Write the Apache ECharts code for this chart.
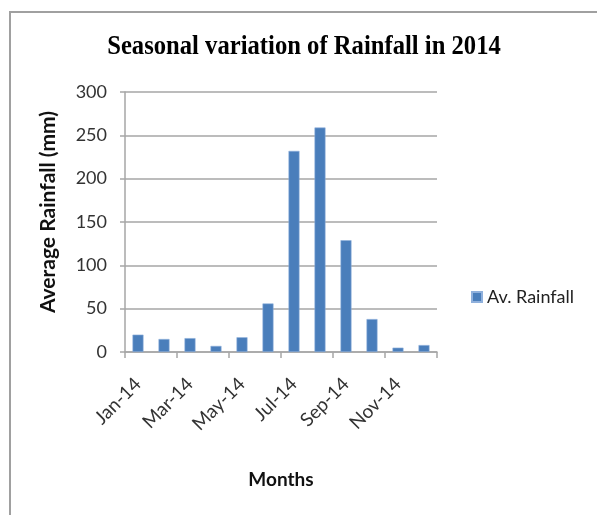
<!DOCTYPE html>
<html>
<head>
<meta charset="utf-8">
<script src="https://cdn.jsdelivr.net/npm/echarts@6/dist/echarts.min.js"></script>
<style>
  html, body { margin: 0; padding: 0; background: #ffffff; }
  #chart { width: 597px; height: 515px; }
</style>
</head>
<body>
<div id="chart"></div>
<script>
// Monthly average rainfall for 2014
const months = ['Jan-14', 'Feb-14', 'Mar-14', 'Apr-14', 'May-14', 'Jun-14',
                'Jul-14', 'Aug-14', 'Sep-14', 'Oct-14', 'Nov-14', 'Dec-14'];
const rainfall = [20, 15, 16, 7, 17, 56, 232, 259, 129, 38, 5, 8];
const seriesName = 'Av. Rainfall';
const chartTitle = 'Seasonal variation of Rainfall in 2014';
const yTicks = { min: 0, max: 300, interval: 50 };

const chart = echarts.init(document.getElementById('chart'), null, { renderer: 'canvas' });

const labelFont = 'Lato, "Open Sans", sans-serif';

chart.setOption({
  animation: false,
  backgroundColor: '#ffffff',
  legend: {
    left: 466,
    top: 283,
    orient: 'vertical',
    icon: 'rect',
    itemWidth: 10,
    itemHeight: 10,
    itemGap: 6,
    textStyle: { fontFamily: labelFont, fontSize: 18, color: '#222222' },
    data: [seriesName]
  },
  grid: { left: 125, right: 160, top: 92, bottom: 163, containLabel: false },
  xAxis: {
    type: 'category',
    data: months,
    boundaryGap: true,
    name: 'Months',
    nameLocation: 'middle',
    nameGap: 118,
    nameTextStyle: { fontFamily: labelFont, fontWeight: 'bold', fontSize: 19, color: '#111111' },
    axisLine: { lineStyle: { color: '#a6a6a6', width: 1.5 } },
    axisTick: { show: true, interval: 1, length: 6, lineStyle: { color: '#a6a6a6', width: 1.5 } },
    axisLabel: { interval: 1, rotate: 45, margin: 29, fontFamily: labelFont, fontSize: 19, color: '#333333' }
  },
  yAxis: {
    type: 'value',
    min: yTicks.min,
    max: yTicks.max,
    interval: yTicks.interval,
    name: 'Average Rainfall (mm)',
    nameLocation: 'middle',
    nameGap: 66,
    nameTextStyle: {
      fontFamily: labelFont, fontWeight: 'bold', fontSize: 21, color: '#111111',
      padding: [0, 0, 0, 20]
    },
    axisLine: { show: true, lineStyle: { color: '#a6a6a6', width: 1.5 } },
    axisTick: { show: true, length: 5, lineStyle: { color: '#a6a6a6', width: 1.5 } },
    axisLabel: { margin: 18, fontFamily: labelFont, fontSize: 18, color: '#333333' },
    splitLine: { show: true, lineStyle: { color: '#a6a6a6', width: 1.5 } }
  },
  series: [{
    name: seriesName,
    type: 'bar',
    data: rainfall,
    barWidth: 11,
    itemStyle: { color: '#4a7ebb', borderColor: '#8fb0dc', borderWidth: 0.6 }
  }],
  graphic: [
    {
      // frame: left and top edges only
      type: 'polyline',
      shape: { points: [[10, 515], [10, 12], [597, 12]] },
      style: { stroke: '#a0a0a0', lineWidth: 2, fill: null },
      silent: true
    },
    {
      // condensed bold serif heading
      type: 'text',
      x: 304,
      y: 47,
      scaleX: 0.88,
      style: {
        text: chartTitle,
        font: 'bold 28px "Liberation Serif", serif',
        fill: '#000000',
        align: 'center',
        verticalAlign: 'middle'
      },
      silent: true
    }
  ]
});
</script>
</body>
</html>
